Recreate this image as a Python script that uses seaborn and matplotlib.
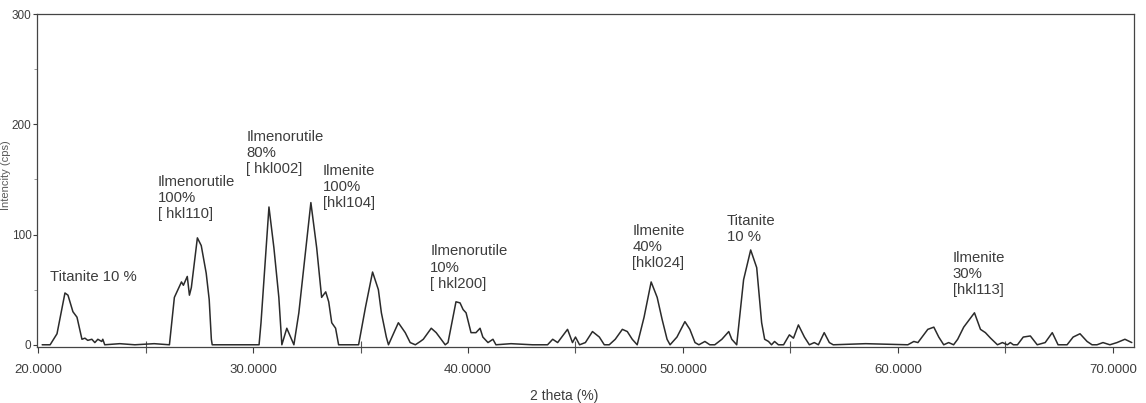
import matplotlib
matplotlib.use("Agg")
import matplotlib.pyplot as plt
from matplotlib.ticker import MultipleLocator, FormatStrFormatter
import seaborn as sns

# XRD pattern: 2 theta and intensity (cps)
two_theta = [
    20.19, 20.56, 20.88, 21.25, 21.39, 21.62, 21.81, 22.04, 22.18, 22.31,
    22.50, 22.64, 22.78, 22.96, 23.01, 23.10, 23.80, 24.50, 25.40, 26.11,
    26.34, 26.67, 26.76, 26.94, 27.04, 27.13, 27.41, 27.59, 27.82, 27.96,
    28.06, 28.10, 30.19, 30.28, 30.37, 30.74, 30.97, 31.20, 31.34, 31.57,
    31.90, 32.13, 32.69, 32.96, 33.19, 33.38, 33.52, 33.66, 33.84, 33.98,
    34.91, 35.23, 35.56, 35.83, 35.97, 36.20, 36.30, 36.76, 37.08, 37.31,
    37.55, 37.78, 37.92, 38.29, 38.52, 38.94, 39.07, 39.44, 39.63, 39.77,
    39.91, 40.14, 40.37, 40.56, 40.69, 40.93, 41.16, 41.30, 42.00, 43.00,
    43.70, 43.94, 44.17, 44.63, 44.86, 45.00, 45.19, 45.46, 45.79, 46.11,
    46.34, 46.57, 46.85, 47.18, 47.41, 47.64, 47.87, 48.19, 48.52, 48.80,
    49.03, 49.26, 49.40, 49.72, 50.09, 50.32, 50.56, 50.74, 51.02, 51.25,
    51.48, 51.81, 52.13, 52.27, 52.50, 52.82, 53.15, 53.43, 53.66, 53.80,
    53.98, 54.12, 54.26, 54.44, 54.68, 54.95, 55.14, 55.37, 55.65, 55.88,
    56.11, 56.30, 56.57, 56.81, 56.99, 58.50, 60.46, 60.74, 60.93, 61.39,
    61.67, 61.90, 62.13, 62.36, 62.59, 62.78, 63.06, 63.56, 63.84, 64.07,
    64.31, 64.63, 64.86, 65.09, 65.23, 65.37, 65.56, 65.83, 66.16, 66.48,
    66.85, 67.18, 67.45, 67.87, 68.15, 68.47, 68.61, 68.80, 69.03, 69.26,
    69.54, 69.86, 70.19, 70.56, 70.88,
]
intensity = [
    0, 0, 10, 47, 45, 30, 25, 5, 6, 4,
    5, 2, 5, 3, 5, 0, 1, 0, 1, 0,
    43, 57, 54, 62, 45, 52, 97, 90, 65, 41,
    5, 0, 0, 0, 20, 125, 88, 43, 0, 15,
    0, 29, 129, 88, 43, 48, 39, 20, 15, 0,
    0, 34, 66, 50, 29, 7, 0, 20, 11, 2,
    0, 3, 5, 15, 11, 0, 2, 39, 38, 32,
    29, 11, 11, 15, 7, 2, 5, 0, 1, 0,
    0, 5, 2, 14, 2, 7, 0, 2, 12, 7,
    0, 0, 5, 14, 12, 5, 0, 25, 57, 43,
    23, 5, 0, 7, 21, 14, 2, 0, 3, 0,
    0, 5, 12, 5, 0, 59, 86, 70, 20, 5,
    3, 0, 3, 0, 0, 9, 6, 18, 7, 0,
    2, 0, 11, 2, 0, 1, 0, 3, 2, 14,
    16, 7, 0, 2, 0, 5, 16, 29, 14, 11,
    6, 0, 2, 0, 2, 0, 0, 7, 8, 0,
    2, 11, 0, 0, 7, 10, 7, 3, 0, 0,
    2, 0, 2, 5, 2,
]

# peak assignments written on the chart
peak_labels = [
    "Titanite 10 %",
    "Ilmenorutile\n100%\n[ hkl110]",
    "Ilmenorutile\n80%\n[ hkl002]",
    "Ilmenite\n100%\n[hkl104]",
    "Ilmenorutile\n10%\n[ hkl200]",
    "Ilmenite\n40%\n[hkl024]",
    "Titanite\n10 %",
    "Ilmenite\n30%\n[hkl113]",
]
label_theta = [20.56, 25.56, 29.68, 33.24, 38.24, 47.64, 52.04, 62.55]
label_top = [68, 154, 195, 164, 91, 110, 119, 85]

x_ticks = [20, 30, 40, 50, 60, 70]
y_ticks = [0, 100, 200, 300]

sns.set_style("ticks")
plt.rcParams["font.family"] = ["Liberation Sans", "DejaVu Sans"]

fig = plt.figure(figsize=(11.46, 4.03), dpi=100)
ax = fig.add_axes([0.0323, 0.139, 0.957, 0.826])

sns.lineplot(x=two_theta, y=intensity, ax=ax, color="#2b2b2b", lw=1.1,
             estimator=None, sort=False)

for txt, tx, ty in zip(peak_labels, label_theta, label_top):
    ax.text(tx, ty, txt, ha="left", va="top", fontsize=10.7,
            color="#3d3d3d", linespacing=1.2)

ax.set_xlim(19.95, 70.97)
ax.set_ylim(-2, 300)
ax.set_xticks(x_ticks)
ax.set_yticks(y_ticks)
ax.xaxis.set_major_formatter(FormatStrFormatter("%.4f"))
ax.xaxis.set_minor_locator(MultipleLocator(5))
ax.yaxis.set_minor_locator(MultipleLocator(50))

ax.tick_params(axis="x", which="major", direction="out", length=4, width=0.8,
               pad=8, labelsize=9.5, colors="#3d3d3d")
ax.tick_params(axis="x", which="minor", direction="inout", length=9, width=0.8,
               colors="#555555")
ax.tick_params(axis="y", which="major", direction="out", length=3, width=0.8,
               pad=1, labelsize=8.5, colors="#3d3d3d")
ax.tick_params(axis="y", which="minor", direction="out", length=2, width=0.6,
               colors="#888888")

for side in ["left", "right", "top", "bottom"]:
    ax.spines[side].set_visible(True)
    ax.spines[side].set_color("#444444")
    ax.spines[side].set_linewidth(0.9)

ax.set_xlabel("2 theta (%)", fontsize=10, color="#3d3d3d")
ax.xaxis.set_label_coords(0.481, -0.125)
ax.set_ylabel("Intencity (cps)", fontsize=8, color="#5a5a5a")
ax.yaxis.set_label_coords(-0.024, 0.517)

fig.savefig("out.png", dpi=100, facecolor="white")
plt.close(fig)
